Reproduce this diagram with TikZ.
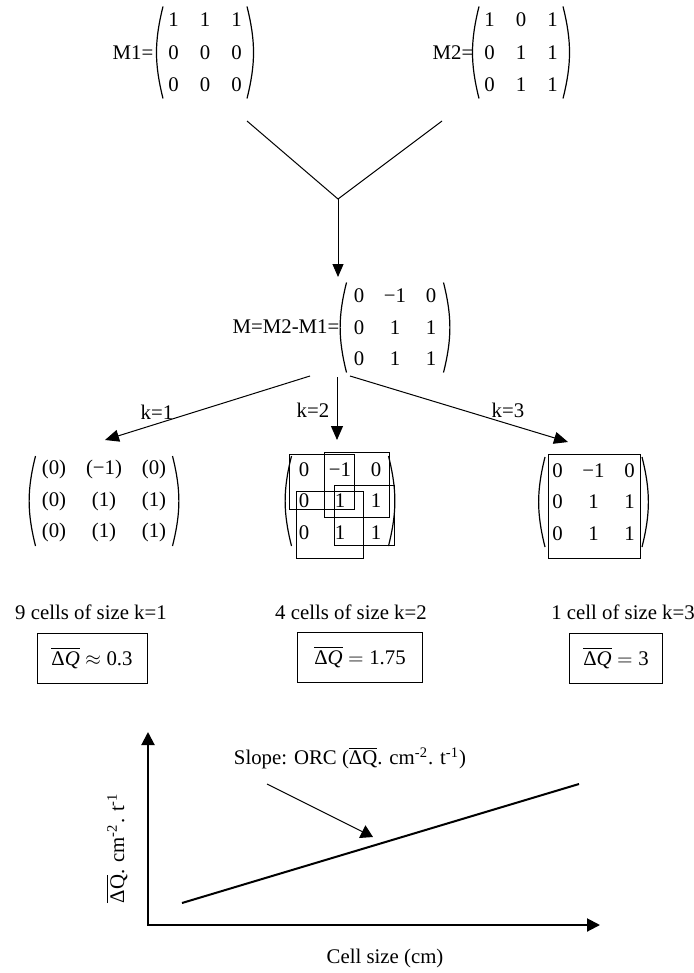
\documentclass[tikz,border=0pt]{standalone}
\usepackage{amsmath}
\usepackage{fontspec}
\setmainfont{Liberation Serif}
\usetikzlibrary{matrix,arrows.meta}

\tikzset{
  mat/.style={matrix of nodes, inner sep=0pt,
    nodes={inner sep=0pt, minimum width=#1, minimum height=13pt, anchor=center}},
  valbox/.style={draw, line width=0.5pt, minimum height=25pt},
  cellbox/.style={line width=0.5pt},
  paren/.style={line width=0.6pt},
}
\newcommand{\dq}{\overline{\text{Δ}\textit{Q}}}
% thin round brackets round a matrix node
\newcommand{\matparen}[1]{%
  \draw [paren] (#1.north west) to[bend right=14] (#1.south west);
  \draw [paren] (#1.north east) to[bend left=14] (#1.south east);}

\begin{document}
\begin{tikzpicture}[x=0.5pt,y=-0.5pt,font=\fontsize{10.4pt}{12pt}\selectfont,
  >={Triangle[length=7pt,width=6pt]}, line width=0.5pt]
\tikzstyle{every node}+=[inner sep=0pt]
\useasboundingbox (0,0) rectangle (693,973);

% input matrices
\node (lA) at (133,53) {M1=};
\matrix (mA) [mat=10pt, column sep=5.75pt, row sep=3.25pt] at (205,52.5) {
1 & 1 & 1\\ 0 & 0 & 0\\ 0 & 0 & 0\\};
\matparen{mA}
\node (lB) at (453,53) {M2=};
\matrix (mB) [mat=10pt, column sep=5.75pt, row sep=3.25pt] at (521,52.5) {
1 & 0 & 1\\ 0 & 1 & 1\\ 0 & 1 & 1\\};
\matparen{mB}

\coordinate (vl) at (247,121);
\coordinate (vr) at (442,121);
\coordinate (vj) at (338,199);
\coordinate (vt) at (338,277);
\draw (vl) -- (vj) -- (vr);
\draw [->, >={Triangle[length=6.5pt,width=5.5pt]}] (vj) -- (vt);

% difference
\node (lM) at (286,327) {M=M2-M1=};
\matrix (mM) [mat=12pt, column sep=6pt, row sep=2.75pt] at (395,327.5) {
0 & −1 & 0\\ 0 & 1 & 1\\ 0 & 1 & 1\\};
\matparen{mM}

\coordinate (s1) at (310,376);
\coordinate (s2) at (337,377);
\coordinate (s3) at (350,376);
\coordinate (t1) at (105,440);
\coordinate (t2) at (337,440);
\coordinate (t3) at (568,442);
\draw [->] (s1) -- (t1);
\draw [->] (s2) -- (t2);
\draw [->] (s3) -- (t3);
\node (k1) at (157,412) {k=1};
\node (k2) at (313,410) {k=2};
\node (k3) at (508,410) {k=3};

% k=1
\matrix (m1) [mat=18pt, column sep=7pt, row sep=2.75pt] at (104,501) {
(0) & (−1) & (0)\\ (0) & (1) & (1)\\ (0) & (1) & (1)\\};
\matparen{m1}
% k=2
\matrix (m2) [mat=12pt, column sep=6pt, row sep=2.75pt] at (340,501) {
0 & −1 & 0\\ 0 & 1 & 1\\ 0 & 1 & 1\\};
\matparen{m2}
\draw [cellbox] (289,454) rectangle (354,509);
\draw [cellbox] (324,452) rectangle (389,517);
\draw [cellbox] (296,491) rectangle (363,558);
\draw [cellbox] (334,485) rectangle (394,545);
% k=3
\matrix (m3) [mat=12pt, column sep=6pt, row sep=2.75pt] at (593.5,502) {
0 & −1 & 0\\ 0 & 1 & 1\\ 0 & 1 & 1\\};
\matparen{m3}
\draw [cellbox] (548,454) rectangle (640,558);

% results
\node (c1) at (91,612) {9 cells of size k=1};
\node (c2) at (351,612) {4 cells of size k=2};
\node (c3) at (623,612) {1 cell of size k=3};
\node [valbox, minimum width=55pt] (q1) at (92,658) {\(\dq\approx\text{0.3}\)};
\node [valbox, minimum width=62.5pt] (q2) at (360,657) {\(\dq=\text{1.75}\)};
\node [valbox, minimum width=46.5pt] (q3) at (616,658) {\(\dq=\text{3}\)};

% graph
\coordinate (o) at (148,925);
\coordinate (ytip) at (148,732);
\coordinate (xtip) at (600,925);
\draw [<->, line width=1pt, >={Triangle[length=6.5pt,width=6.5pt]}] (ytip) -- (o) -- (xtip);
\coordinate (la) at (182,903);
\coordinate (lb) at (579,784);
\draw [line width=1pt] (la) -- (lb);
\node (sl) at (350,758) {Slope: ORC (\(\overline{\text{ΔQ}}\). cm\textsuperscript{-2}. t\textsuperscript{-1})};
\coordinate (sa) at (267,784);
\coordinate (sb) at (373,837);
\draw [->, >={Triangle[length=6pt,width=7pt]}] (sa) -- (sb);
\node [rotate=90] (yl) at (117,848) {\(\overline{\text{ΔQ}}\). cm\textsuperscript{-2}. t\textsuperscript{-1}};
\node (xl) at (385,958) {Cell size (cm)};
\end{tikzpicture}
\end{document}
